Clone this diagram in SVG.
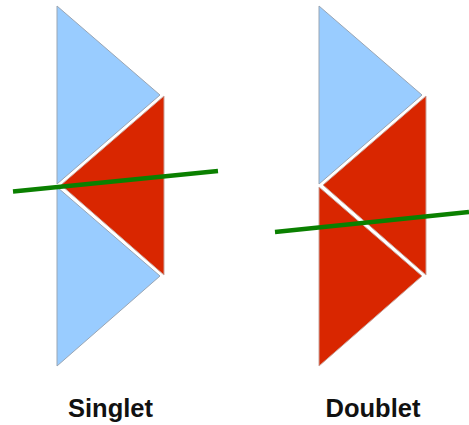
<svg xmlns="http://www.w3.org/2000/svg" width="469" height="425" viewBox="0 0 469 425">
<style>
.blue{fill:#99ccff;stroke:#9aa6b4;stroke-width:1}
.red{fill:#d92600;stroke:#c9a49c;stroke-width:1}
.beam{stroke:#0a8000;stroke-width:4.500;fill:none}
.label{font-family:"Liberation Sans",Arial,sans-serif;font-weight:bold;font-size:25.500px;fill:#111111;text-anchor:middle}
</style>
<rect width="469" height="425" fill="#ffffff"/>
<g id="singlet">
<polygon class="blue" points="57,6 160,95 57,184"/>
<polygon class="blue" points="57,187 160,276 57,366"/>
<polygon class="red" points="164,96 164,275 61,185"/>
<text class="label" x="110.500" y="417">Singlet</text>
</g>
<g id="doublet">
<polygon class="blue" points="319,6 422,95 319,184"/>
<polygon class="red" points="426,96 426,275 323,185"/>
<polygon class="red" points="319,187 422,276 319,366"/>
<text class="label" x="373" y="417">Doublet</text>
</g>
<g id="connectors">
<line class="beam" x1="13" y1="191.500" x2="218" y2="171"/>
<line class="beam" x1="275" y1="232" x2="469" y2="212"/>
</g>
</svg>
